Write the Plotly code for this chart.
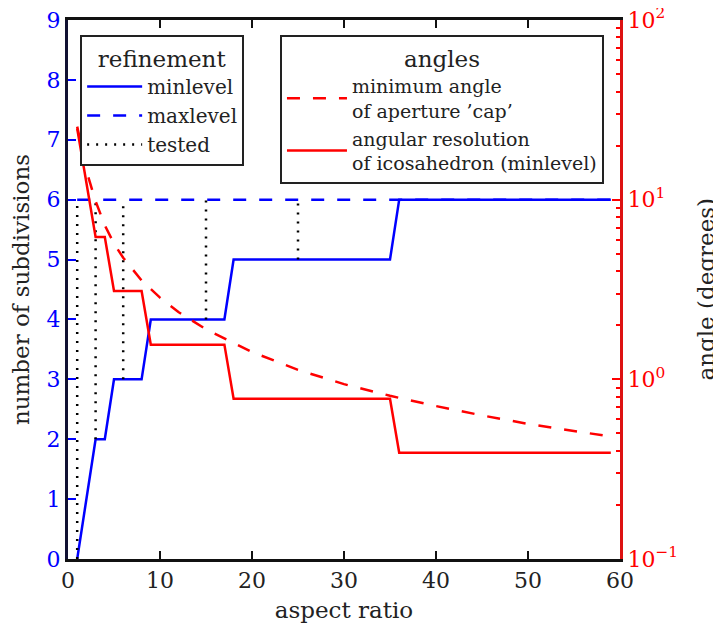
import plotly.graph_objects as go

# ---- data ----
# minlevel (number of subdivisions) vs aspect ratio, at the break points
minlevel_x = [1, 3, 4, 5, 8, 9, 17, 18, 35, 36, 59]
minlevel_y = [0, 2, 2, 3, 3, 4, 4, 5, 5, 6, 6]

# maxlevel
maxlevel_x = [1, 59]
maxlevel_y = [6, 6]

# tested aspect ratios (vertical segments from minlevel up to maxlevel)
tested_x = [1, 3, 6, 15, 25]
tested_low = [0, 2, 3, 4, 5]
tested_high = [6, 6, 6, 6, 6]

# minimum angle of aperture 'cap' (degrees)
cap_x = [1, 2, 3, 4, 5, 6, 8, 10, 12, 15, 20, 25, 30, 35, 40, 45, 50, 55, 59]
cap_deg = [25.5, 14.5, 9.8, 7.2, 5.7, 4.75, 3.55, 2.85, 2.37, 1.9, 1.42, 1.13,
           0.94, 0.81, 0.71, 0.63, 0.565, 0.515, 0.48]

# angular resolution of icosahedron at minlevel (degrees)
res_x = [1, 2, 3, 4, 5, 8, 9, 17, 18, 35, 36, 59]
res_deg = [24.9, 12.4, 6.2, 6.2, 3.1, 3.1, 1.56, 1.56, 0.78, 0.78, 0.39, 0.39]

left_ticks = [0, 1, 2, 3, 4, 5, 6, 7, 8, 9]
x_ticks = [0, 10, 20, 30, 40, 50, 60]
right_tickvals = [0.1, 1, 10, 100]
right_ticktext = ["10<sup>−1</sup>", "10<sup>0</sup>", "10<sup>1</sup>", "10<sup>2</sup>"]

FONT = "DejaVu Serif"
BLUE = "#0000ff"
RED = "#ff0000"
TXT = "#222222"

# build tested segments
tx, ty = [], []
for x, lo, hi in zip(tested_x, tested_low, tested_high):
    tx += [x, x, None]
    ty += [lo, hi, None]

fig = go.Figure()
fig.add_trace(go.Scatter(x=minlevel_x, y=minlevel_y, mode="lines", name="minlevel",
                         line=dict(color=BLUE, width=2.5), legend="legend"))
fig.add_trace(go.Scatter(x=maxlevel_x, y=maxlevel_y, mode="lines", name="maxlevel",
                         line=dict(color=BLUE, width=2.5, dash="13px,13px"), legend="legend"))
fig.add_trace(go.Scatter(x=tx, y=ty, mode="lines", name="tested",
                         line=dict(color="black", width=2.5, dash="2px,7px"), legend="legend"))
fig.add_trace(go.Scatter(x=cap_x, y=cap_deg, mode="lines", yaxis="y2",
                         name="minimum angle<br>of aperture ’cap’",
                         line=dict(color=RED, width=2.5, dash="13px,13px"), legend="legend2"))
fig.add_trace(go.Scatter(x=res_x, y=res_deg, mode="lines", yaxis="y2",
                         name="angular resolution<br>of icosahedron (minlevel)",
                         line=dict(color=RED, width=2.5), legend="legend2"))

fig.update_layout(
    width=713, height=622,
    margin=dict(l=60, r=101, t=12, b=71),
    plot_bgcolor="white", paper_bgcolor="white",
    font=dict(family=FONT, size=21, color=TXT),
    xaxis=dict(range=[0, 60], tickvals=x_ticks, showgrid=False, zeroline=False,
               automargin=False, ticklabeloverflow="allow",
               showline=True, linecolor="#111111", linewidth=3, mirror="ticks",
               ticks="inside", ticklen=8, tickcolor="#111111", tickwidth=1.5,
               tickfont=dict(size=22, color=TXT),
               title=dict(text="aspect ratio", font=dict(size=23, color=TXT), standoff=10)),
    yaxis=dict(range=[0, 9], tickvals=left_ticks, showgrid=False, zeroline=False,
               automargin=False, ticklabeloverflow="allow",
               showline=True, linecolor="#111133", linewidth=3,
               ticks="inside", ticklen=8, tickcolor=BLUE, tickwidth=1.5,
               tickfont=dict(size=22, color=BLUE),
               title=dict(text="number of subdivisions", font=dict(size=23, color=TXT), standoff=14)),
    yaxis2=dict(type="log", range=[-1, 2], overlaying="y", side="right",
                automargin=False, ticklabeloverflow="allow",
                tickvals=right_tickvals, ticktext=right_ticktext,
                showgrid=False, zeroline=False,
                showline=True, linecolor="#dd1111", linewidth=3,
                ticks="inside", ticklen=8, tickcolor=RED, tickwidth=1.5,
                minor=dict(ticks="inside", ticklen=4, tickcolor=RED, tickwidth=1.5, dtick="D1", showgrid=False),
                tickfont=dict(size=22, color=RED)),
    legend=dict(x=0.022, y=0.972, xanchor="left", yanchor="top",
                bgcolor="white", bordercolor="#222222", borderwidth=2,
                font=dict(family=FONT, size=20, color=TXT),
                title=dict(text="refinement", side="top center", font=dict(family=FONT, size=23, color=TXT)),
                itemwidth=55),
    legend2=dict(x=0.384, y=0.972, xanchor="left", yanchor="top",
                 bgcolor="white", bordercolor="#222222", borderwidth=2,
                 font=dict(family=FONT, size=19, color=TXT),
                 title=dict(text="angles", side="top center", font=dict(family=FONT, size=23, color=TXT)),
                 itemwidth=60),
    showlegend=True,
    annotations=[dict(text="angle (degrees)", textangle=-90, xref="paper", yref="paper",
                      x=1.154, y=0.5, xanchor="center", yanchor="middle", showarrow=False,
                      font=dict(family=FONT, size=23, color=TXT))],
)

fig.write_html("out.html")
